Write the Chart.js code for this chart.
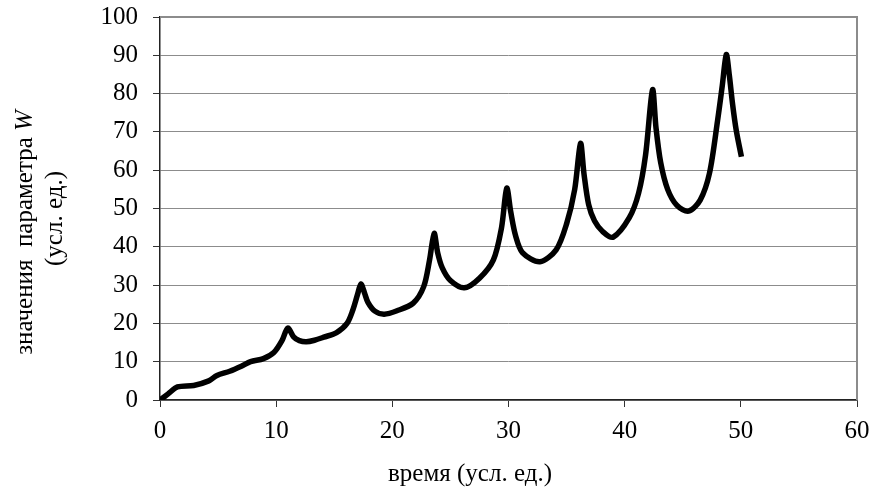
<!DOCTYPE html>
<html>
<head>
<meta charset="utf-8">
<script src="https://cdn.jsdelivr.net/npm/chart.js@4/dist/chart.umd.min.js"></script>
<style>
  html, body { margin: 0; padding: 0; background: #fff; }
  #wrap { width: 873px; height: 488px; }
</style>
</head>
<body>
<div id="wrap"><canvas id="wChart"></canvas></div>
<script>
// время (усл. ед.)
const timeValues = [
  0, 0.7, 1.5, 2.9, 4.2, 4.9, 6.0, 7.0, 7.8, 8.9,
  9.8, 10.5, 11.0, 11.5, 12.0, 12.6, 13.3, 14.1, 15.2, 16.1,
  16.6, 17.0, 17.3, 17.6, 17.9, 18.5, 19.3, 20.4, 21.8, 22.7,
  23.2, 23.6, 23.9, 24.3, 25.0, 26.2, 27.5, 28.7, 29.4, 29.85,
  30.2, 30.6, 31.2, 32.7, 34.1, 35.0, 35.7, 36.2, 36.5, 36.9,
  37.4, 38.1, 39.0, 40.4, 41.2, 41.8, 42.4, 42.7, 43.1, 43.7,
  44.5, 45.5, 46.5, 47.3, 48.0, 48.4, 48.75, 49.0, 49.3, 49.6,
  50.05
];
// значения параметра W
const wValues = [
  0, 1.6, 3.4, 3.8, 5.0, 6.4, 7.5, 8.8, 10.0, 10.8,
  12.4, 15.5, 18.8, 16.5, 15.5, 15.2, 15.6, 16.4, 17.6, 20,
  23.5, 27.5, 30.3, 28, 25.5, 23.2, 22.4, 23.3, 25.3, 29.6,
  36.5, 43.5, 38.5, 34.5, 31.2, 29.3, 31.8, 36.6, 45, 55.3,
  49, 43, 38.5, 36.1, 39.2, 46, 55, 67, 59, 51,
  46.8, 44, 42.5, 47.6, 54, 64, 81, 71, 62, 55,
  50.8, 49.3, 52.2, 59.2, 73, 82, 90.2, 85, 77, 70.5,
  63.5
];
const xTicks = [0, 10, 20, 30, 40, 50, 60];
const yTicks = [0, 10, 20, 30, 40, 50, 60, 70, 80, 90, 100];

const FONT = '"Liberation Serif", "Times New Roman", serif';
const SIZE = 25;

const points = timeValues.map((t, i) => ({ x: t, y: wValues[i] }));

// gray frame on top and right of the plot area
const frame = {
  id: 'frame',
  beforeDatasetsDraw(chart) {
    const { ctx, chartArea: a } = chart;
    ctx.save();
    ctx.strokeStyle = '#8c8c8c';
    ctx.lineWidth = 2;
    ctx.beginPath();
    ctx.moveTo(a.left, a.top);
    ctx.lineTo(a.right, a.top);
    ctx.lineTo(a.right, a.bottom);
    ctx.stroke();
    ctx.restore();
  }
};

// axis titles; the y one has an italic W
const titles = {
  id: 'titles',
  afterDraw(chart) {
    const ctx = chart.ctx;
    const mid = (chart.chartArea.top + chart.chartArea.bottom) / 2;
    const normal = SIZE + 'px ' + FONT;
    const italic = 'italic ' + SIZE + 'px ' + FONT;
    ctx.save();
    ctx.fillStyle = '#000';
    ctx.textBaseline = 'middle';

    // x title
    ctx.font = normal;
    ctx.textAlign = 'center';
    ctx.fillText('время (усл. ед.)', 470, 474);

    // y title, line 1
    ctx.save();
    ctx.translate(25, mid + 24);
    ctx.rotate(-Math.PI / 2);
    const a = 'значения  параметра ';
    ctx.font = normal;
    const wa = ctx.measureText(a).width;
    ctx.font = italic;
    const wb = ctx.measureText('W').width;
    const x0 = -(wa + wb) / 2;
    ctx.textAlign = 'left';
    ctx.font = normal;
    ctx.fillText(a, x0, 0);
    ctx.font = italic;
    ctx.fillText('W', x0 + wa, 0);
    ctx.restore();

    // y title, line 2
    ctx.save();
    ctx.translate(55, mid + 10);
    ctx.rotate(-Math.PI / 2);
    ctx.font = normal;
    ctx.textAlign = 'center';
    ctx.fillText('(усл. ед.)', 0, 0);
    ctx.restore();

    ctx.restore();
  }
};

new Chart(document.getElementById('wChart'), {
  type: 'line',
  data: {
    datasets: [{
      data: points,
      borderColor: '#000',
      borderWidth: 5.5,
      pointRadius: 0,
      tension: 0.3,
      fill: false
    }]
  },
  options: {
    responsive: true,
    maintainAspectRatio: false,
    animation: false,
    events: [],
    layout: { padding: { top: 17, right: 16, left: 0, bottom: 0 } },
    plugins: {
      legend: { display: false },
      tooltip: { enabled: false }
    },
    scales: {
      x: {
        type: 'linear',
        min: 0,
        max: 60,
        afterBuildTicks: s => { s.ticks = xTicks.map(v => ({ value: v })); },
        afterFit: s => {
          s.height = 88;
          s.paddingLeft = 0;
          s.paddingRight = 0;
        },
        ticks: {
          color: '#000',
          padding: 9,
          font: { family: FONT, size: SIZE }
        },
        grid: {
          drawOnChartArea: false,
          drawTicks: true,
          tickLength: 7,
          tickColor: '#333',
          lineWidth: 1
        },
        border: { color: '#222', width: 1.5 }
      },
      y: {
        min: 0,
        max: 100,
        afterBuildTicks: s => { s.ticks = yTicks.map(v => ({ value: v })); },
        afterFit: s => {
          s.width = 160;
          s.paddingTop = 0;
          s.paddingBottom = 0;
        },
        ticks: {
          color: '#000',
          padding: 15,
          font: { family: FONT, size: SIZE }
        },
        grid: {
          color: '#8c8c8c',
          lineWidth: 1,
          tickLength: 7,
          tickColor: '#333'
        },
        border: { color: '#222', width: 1.5 }
      }
    }
  },
  plugins: [frame, titles]
});
</script>
</body>
</html>
